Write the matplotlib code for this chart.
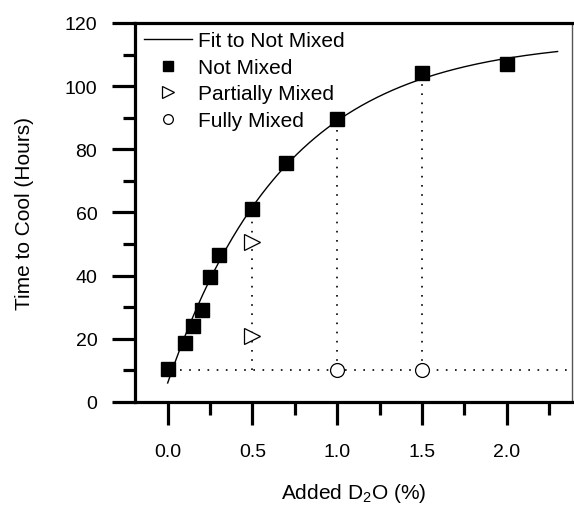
import numpy as np
import matplotlib
matplotlib.use("Agg")
import matplotlib.pyplot as plt
from matplotlib.ticker import MultipleLocator

plt.rcParams['font.family'] = ['Liberation Sans', 'DejaVu Sans']
plt.rcParams['mathtext.fontset'] = 'custom'
plt.rcParams['mathtext.rm'] = 'Liberation Sans'
plt.rcParams['mathtext.it'] = 'Liberation Sans'

# not mixed samples
not_mixed_x = [0.0, 0.1, 0.15, 0.2, 0.25, 0.3, 0.5, 0.7, 1.0, 1.5, 2.0]
not_mixed_y = [10.5, 18.5, 24.0, 29.0, 39.5, 46.5, 61.0, 75.5, 89.5, 104.0, 107.0]
# partially mixed
partial_x = [0.5, 0.5]
partial_y = [50.5, 21.0]
# fully mixed
full_x = [1.0, 1.5]
full_y = [10.0, 10.0]

# fit to not mixed: y = A - B*exp(-k*x), params
fit_A, fit_B, fit_k = 115.0, 109.0, 1.433
fit_xmax = 2.3

baseline_y = 10.0

fig = plt.figure(figsize=(5.74, 5.10), dpi=100)
ax = fig.add_axes([0.236, 0.21, 0.7605, 0.743])

# dotted guide lines
dot = dict(color='black', linestyle=(0, (1, 4.5)), linewidth=1.2)
ax.plot([0.07, 2.4], [baseline_y, baseline_y], **dot)
ax.plot([0.5, 0.5], [baseline_y, not_mixed_y[6]], **dot)
ax.plot([1.0, 1.0], [baseline_y, not_mixed_y[8]], **dot)
ax.plot([1.5, 1.5], [baseline_y, not_mixed_y[9]], **dot)

xf = np.linspace(0, fit_xmax, 200)
yf = fit_A - fit_B * np.exp(-fit_k * xf)
ax.plot(xf, yf, color='black', linewidth=1.0, label='Fit to Not Mixed')

ax.plot(not_mixed_x, not_mixed_y, 's', color='black', markersize=9.5,
        linestyle='none', label='Not Mixed')
ax.plot(partial_x, partial_y, '>', markerfacecolor='white', markeredgecolor='black',
        markeredgewidth=0.9, markersize=11.5, linestyle='none', label='Partially Mixed')
ax.plot(full_x, full_y, 'o', markerfacecolor='white', markeredgecolor='black',
        markeredgewidth=0.9, markersize=10, linestyle='none', label='Fully Mixed')

ax.set_xlim(-0.19, 2.385)
ax.set_ylim(0, 120)
ax.xaxis.set_major_locator(MultipleLocator(0.5))
ax.xaxis.set_minor_locator(MultipleLocator(0.25))
ax.yaxis.set_major_locator(MultipleLocator(20))
ax.yaxis.set_minor_locator(MultipleLocator(10))
ax.set_xticks([0.0, 0.5, 1.0, 1.5, 2.0])
ax.set_xticklabels(['0.0', '0.5', '1.0', '1.5', '2.0'])

ax.tick_params(which='major', direction='out', length=16.5, width=2.3, labelsize=14, pad=11)
ax.tick_params(which='minor', direction='out', length=9, width=2.3)
ax.tick_params(axis='x', which='major', pad=13)

for s in ['left', 'bottom', 'top']:
    ax.spines[s].set_linewidth(2.3)
ax.spines['right'].set_linewidth(1.0)
ax.spines['right'].set_color('#555555')

ax.set_ylabel('Time to Cool (Hours)', fontsize=15, labelpad=22)
ax.set_xlabel('Added D$_2$O (%)', fontsize=15, labelpad=15)

leg = ax.legend(loc='upper left', frameon=False, fontsize=15, handlelength=2.3,
                borderaxespad=0.1, borderpad=0.3, labelspacing=0.36, handletextpad=0.3,
                markerscale=0.7)

fig.savefig('out.png', dpi=100)
